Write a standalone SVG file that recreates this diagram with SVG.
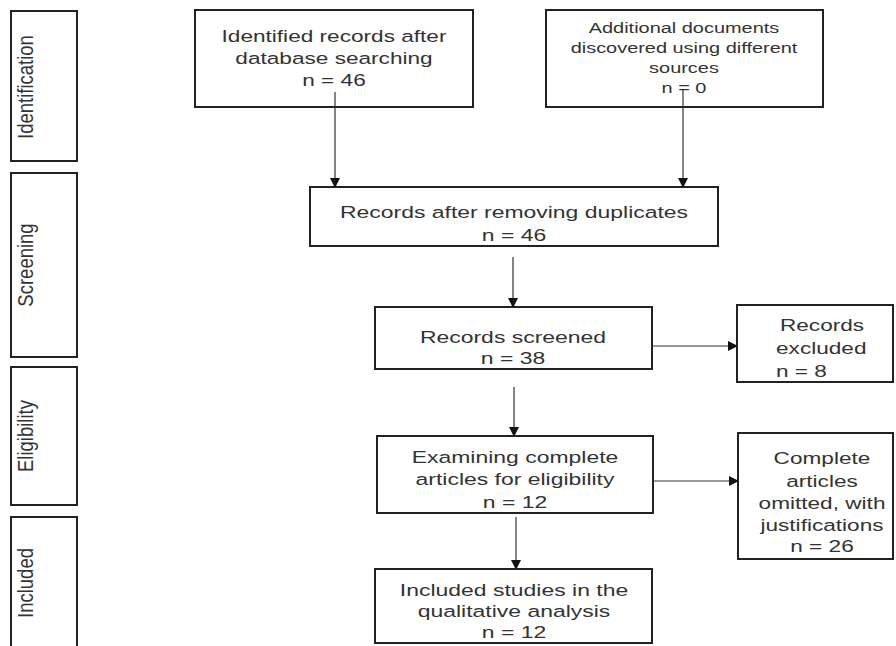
<svg xmlns="http://www.w3.org/2000/svg" width="896" height="646" viewBox="0 0 896 646">
<style>
.box{fill:#fff;stroke:#222;stroke-width:2}
.t{font-family:"Liberation Sans",Arial,sans-serif;font-size:17px;fill:#333;text-anchor:middle}
.s{font-size:15px}
.side{font-family:"Liberation Sans",Arial,sans-serif;font-size:18.5px;fill:#333;text-anchor:middle}
.c{stroke:#333;stroke-width:1.2;fill:none;marker-end:url(#ah)}
</style>
<defs>
<marker id="ah" markerUnits="userSpaceOnUse" markerWidth="12" markerHeight="12" refX="11" refY="6" orient="auto">
<path d="M1,1 L11,6 L1,11 Z" fill="#111"/>
</marker>
</defs>
<rect width="896" height="646" fill="#fff"/>

<g id="stage-identification">
<rect class="box" x="11" y="11" width="66" height="150"/>
<text class="side" transform="translate(33,87) rotate(-90) scale(1,1.15)">Identification</text>
</g>
<g id="stage-screening">
<rect class="box" x="11" y="173" width="66" height="184"/>
<text class="side" transform="translate(33,265) rotate(-90) scale(1,1.15)">Screening</text>
</g>
<g id="stage-eligibility">
<rect class="box" x="11" y="367" width="66" height="138"/>
<text class="side" transform="translate(33,436) rotate(-90) scale(1,1.15)">Eligibility</text>
</g>
<g id="stage-included">
<rect class="box" x="11" y="517" width="66" height="140"/>
<text class="side" transform="translate(33,583) rotate(-90) scale(1,1.15)">Included</text>
</g>

<g id="identified">
<rect class="box" x="195" y="10" width="278" height="97"/>
<g transform="translate(334,0) scale(1.33,1)">
<text class="t" x="0" y="42">Identified records after</text>
<text class="t" x="0" y="64">database searching</text>
<text class="t" x="0" y="86">n = 46</text>
</g>
</g>
<g id="additional">
<rect class="box" x="546" y="10" width="277" height="97"/>
<g transform="translate(684,0) scale(1.33,1)">
<text class="t s" x="0" y="33">Additional documents</text>
<text class="t s" x="0" y="53">discovered using different</text>
<text class="t s" x="0" y="73">sources</text>
<text class="t s" x="0" y="93">n = 0</text>
</g>
</g>
<g id="duplicates">
<rect class="box" x="310" y="187" width="408" height="59"/>
<g transform="translate(514,0) scale(1.35,1)">
<text class="t" x="0" y="218">Records after removing duplicates</text>
<text class="t" x="0" y="241">n = 46</text>
</g>
</g>
<g id="screened">
<rect class="box" x="375" y="307" width="277" height="62"/>
<g transform="translate(513,0) scale(1.35,1)">
<text class="t" x="0" y="343">Records screened</text>
<text class="t" x="0" y="364">n = 38</text>
</g>
</g>
<g id="excluded">
<rect class="box" x="737" y="305" width="156" height="77"/>
<g transform="translate(776,0) scale(1.33,1)">
<text class="t" style="text-anchor:start" x="3" y="331">Records</text>
<text class="t" style="text-anchor:start" x="0" y="354">excluded</text>
<text class="t" style="text-anchor:start" x="0" y="377">n = 8</text>
</g>
</g>
<g id="examining">
<rect class="box" x="377" y="436" width="276" height="77"/>
<g transform="translate(515,0) scale(1.35,1)">
<text class="t" x="0" y="463">Examining complete</text>
<text class="t" x="0" y="485">articles for eligibility</text>
<text class="t" x="0" y="508">n = 12</text>
</g>
</g>
<g id="omitted">
<rect class="box" x="738" y="433" width="155" height="126"/>
<g transform="translate(822,0) scale(1.33,1)">
<text class="t" x="0" y="464">Complete</text>
<text class="t" x="0" y="487">articles</text>
<text class="t" x="0" y="509">omitted, with</text>
<text class="t" x="0" y="531">justifications</text>
<text class="t" x="0" y="552">n = 26</text>
</g>
</g>
<g id="included">
<rect class="box" x="375" y="569" width="277" height="74"/>
<g transform="translate(514,0) scale(1.35,1)">
<text class="t" x="0" y="596">Included studies in the</text>
<text class="t" x="0" y="617">qualitative analysis</text>
<text class="t" x="0" y="638">n = 12</text>
</g>
</g>

<g id="connectors">
<line class="c" x1="335" y1="92" x2="335" y2="188"/>
<line class="c" x1="683" y1="90" x2="683" y2="188"/>
<line class="c" x1="513" y1="257" x2="513" y2="308"/>
<line class="c" x1="652" y1="346" x2="738" y2="346"/>
<line class="c" x1="514" y1="387" x2="514" y2="437"/>
<line class="c" x1="653" y1="481" x2="739" y2="481"/>
<line class="c" x1="516" y1="517" x2="516" y2="570"/>
</g>
</svg>
